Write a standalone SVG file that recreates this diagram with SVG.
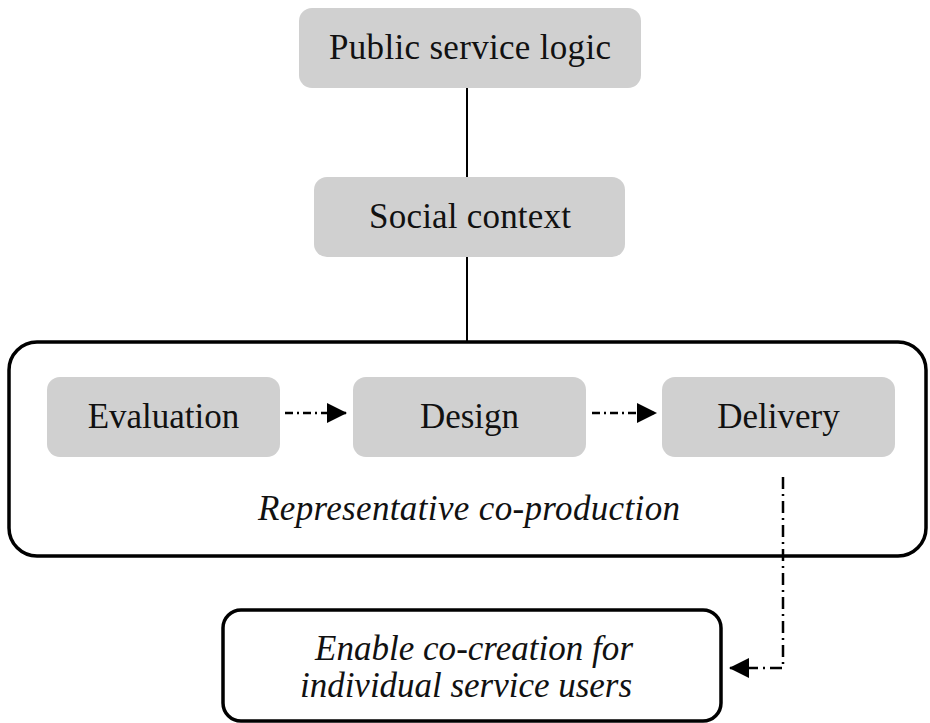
<svg xmlns="http://www.w3.org/2000/svg" width="930" height="723" viewBox="0 0 930 723">
<style>
.box{fill:#d0d0d0;stroke:none}
.frame{fill:#fff;stroke:#000;stroke-width:3.5}
.t{font-family:"Liberation Serif","Times New Roman",serif;font-size:35px;fill:#111;text-anchor:middle}
.i{font-style:italic}
.solid{stroke:#000;stroke-width:2;fill:none}
.dd{stroke:#000;stroke-width:2.5;fill:none;stroke-dasharray:8 4 2 4}
.dv{stroke:#000;stroke-width:2.5;fill:none;stroke-dasharray:12 5 2 5}
</style>
<defs>
<marker id="ah" markerWidth="20" markerHeight="20" refX="19" refY="10" orient="auto" markerUnits="userSpaceOnUse">
<path d="M0,0 L20,10 L0,20 Z" fill="#000"/>
</marker>
</defs>
<rect width="930" height="723" fill="#fff"/>
<g id="node-rep">
<rect class="frame" x="9" y="342" width="917" height="214" rx="28"/>
<text class="t i" x="469" y="520" textLength="422">Representative co-production</text>
</g>
<g id="connectors">
<line class="solid" x1="467" y1="88" x2="467" y2="177"/>
<line class="solid" x1="467" y1="257" x2="467" y2="342"/>
<line class="dd" x1="285" y1="413" x2="346" y2="413" marker-end="url(#ah)"/>
<line class="dd" x1="592" y1="413" x2="656" y2="413" marker-end="url(#ah)"/>
<polyline class="dv" points="783,477 783,668 730,668" marker-end="url(#ah)"/>
</g>
<g id="node-psl">
<rect class="box" x="299" y="8" width="342" height="80" rx="13"/>
<text class="t" x="470" y="59" textLength="282">Public service logic</text>
</g>
<g id="node-social">
<rect class="box" x="314" y="177" width="311" height="80" rx="13"/>
<text class="t" x="470" y="228" textLength="202">Social context</text>
</g>
<g id="node-eval">
<rect class="box" x="47" y="377" width="233" height="80" rx="13"/>
<text class="t" x="163.5" y="428">Evaluation</text>
</g>
<g id="node-design">
<rect class="box" x="353" y="377" width="233" height="80" rx="13"/>
<text class="t" x="469.5" y="428">Design</text>
</g>
<g id="node-delivery">
<rect class="box" x="662" y="377" width="233" height="80" rx="13"/>
<text class="t" x="778.5" y="428">Delivery</text>
</g>
<g id="node-enable">
<rect class="frame" x="223" y="610" width="498" height="111" rx="18"/>
<text class="t i" x="474" y="660" textLength="318">Enable co-creation for</text>
<text class="t i" x="466" y="697" textLength="332">individual service users</text>
</g>
</svg>
